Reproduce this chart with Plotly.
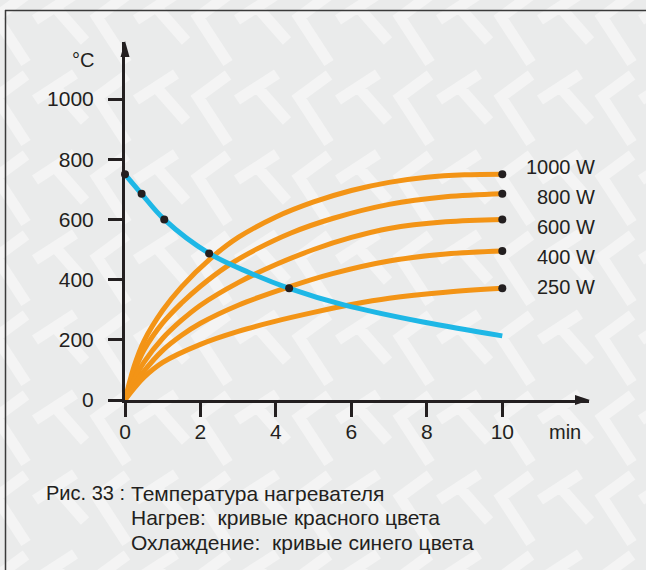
import plotly.graph_objects as go

# cooling curve (blue)
cool_t = [0, 0.44, 1.04, 2.23, 3.3, 4.35, 5.8, 7.9, 10]
cool_T = [750, 685, 600, 487, 423, 371, 316, 259, 213]
cool_dot_t = [0, 0.44, 1.04, 2.23, 4.35]
cool_dot_T = [750, 685, 600, 487, 371]

# heating curves (orange)
t_1000 = [0, 0.25, 0.5, 1, 1.5, 2.25, 3, 4, 5, 6, 7, 8, 9, 10]
T_1000 = [0, 115, 195, 298, 376, 468, 540, 608, 658, 696, 723, 740, 748, 750]
t_800 = [0, 0.25, 0.5, 1, 1.5, 2, 2.7, 3.5, 4.4, 5.5, 7, 8.5, 10]
T_800 = [0, 95, 165, 256, 322, 378, 444, 502, 555, 603, 650, 675, 685]
t_600 = [0, 0.25, 0.5, 1, 1.5, 2, 3, 4, 5, 6, 7, 8.5, 10]
T_600 = [0, 70, 125, 205, 265, 315, 390, 450, 500, 540, 570, 592, 600]
t_400 = [0, 0.25, 0.5, 1, 1.5, 2, 3, 4.35, 5.5, 7, 8.5, 10]
T_400 = [0, 50, 95, 165, 215, 255, 315, 376, 420, 462, 485, 495]
t_250 = [0, 0.25, 0.5, 1, 2, 3, 4, 5, 6, 7, 8.5, 10]
T_250 = [0, 40, 75, 125, 185, 228, 262, 291, 317, 338, 358, 371]

heat_t = [t_1000, t_800, t_600, t_400, t_250]
heat_T = [T_1000, T_800, T_600, T_400, T_250]
power_labels = ['1000 W', '800 W', '600 W', '400 W', '250 W']

x_ticks = [0, 2, 4, 6, 8, 10]
y_ticks = [0, 200, 400, 600, 800, 1000]

caption_head = 'Рис. 33 :'
caption_lines = ['Температура нагревателя',
                 'Нагрев:  кривые красного цвета',
                 'Охлаждение:  кривые синего цвета']

ORANGE = '#F39416'
BLUE = '#1EB7E6'
INK = '#231F20'
FONT = 'Liberation Sans, Arial, sans-serif'

W, H = 646, 570
L, R, T, B = 125, 589, 42, 400   # plot area in pixels


def px(x):
    return (x - L) / (R - L)


def py(y):
    return (B - y) / (B - T)


fig = go.Figure()

# faint "CT" watermark in the background
segs = []
for row in range(-1, 8):
    for col in range(-1, 7):
        vx, vy = 602 - 101 * col, 17 + 80 * row
        strokes = [[(vx + 30, vy - 22), (vx, vy), (vx + 30, vy + 46)],
                   [(vx - 62, vy + 3), (vx - 22, vy - 23)],
                   [(vx - 42, vy - 10), (vx - 12, vy + 24)]]
        for st in strokes:
            segs.append('M ' + ' L '.join(f'{px(a):.4f} {py(b):.4f}' for a, b in st))
fig.add_shape(type='path', xref='paper', yref='paper', layer='below', path=' '.join(segs),
              line=dict(color='#F4F4F4', width=11))

for tt, TT in zip(heat_t, heat_T):
    fig.add_trace(go.Scatter(x=tt, y=TT, mode='lines', line=dict(color=ORANGE, width=5, shape='spline', smoothing=1),
                             hoverinfo='skip', showlegend=False))

fig.add_trace(go.Scatter(x=cool_t, y=cool_T, mode='lines', line=dict(color=BLUE, width=5, shape='spline', smoothing=1),
                         hoverinfo='skip', showlegend=False))

# dots on cooling curve and at ends of heating curves
fig.add_trace(go.Scatter(x=cool_dot_t, y=cool_dot_T, mode='markers', marker=dict(color=INK, size=8),
                         cliponaxis=False, hoverinfo='skip', showlegend=False))
fig.add_trace(go.Scatter(x=[tt[-1] for tt in heat_t], y=[TT[-1] for TT in heat_T], mode='markers',
                         marker=dict(color=INK, size=8), cliponaxis=False, hoverinfo='skip', showlegend=False))

# power labels
for i, lab in enumerate(power_labels):
    fig.add_annotation(text=lab, xref='paper', yref='paper', x=px(597), y=py(167 + 30 * i),
                       xanchor='right', yanchor='middle', showarrow=False, font=dict(size=20, color=INK, family=FONT))

fig.add_annotation(text='°C', xref='paper', yref='paper', x=px(96), y=py(60), xanchor='right', yanchor='middle',
                   showarrow=False, font=dict(size=20, color=INK, family=FONT))
fig.add_annotation(text='min', xref='paper', yref='paper', x=px(547), y=py(432), xanchor='left', yanchor='middle',
                   showarrow=False, font=dict(size=20, color=INK, family=FONT))

# caption
fig.add_annotation(text=caption_head, xref='paper', yref='paper', x=px(44), y=py(493), xanchor='left',
                   yanchor='middle', showarrow=False, font=dict(size=20, color=INK, family=FONT))
for i, line in enumerate(caption_lines):
    fig.add_annotation(text=line, xref='paper', yref='paper', x=px(129), y=py(493 + 24.5 * i), xanchor='left',
                       yanchor='middle', showarrow=False, font=dict(size=21, color=INK, family=FONT))

# arrow heads
fig.add_shape(type='path', xref='paper', yref='paper', layer='above',
              path=f'M {px(575)} {py(395)} L {px(590)} {py(400)} L {px(575)} {py(405)} Z',
              fillcolor=INK, line=dict(width=0))
fig.add_shape(type='path', xref='paper', yref='paper', layer='above',
              path=f'M {px(120.5)} {py(57)} L {px(125)} {py(41)} L {px(129.5)} {py(57)} Z',
              fillcolor=INK, line=dict(width=0))

# frame lines
fig.add_shape(type='line', xref='paper', yref='paper', x0=px(5), x1=px(646), y0=py(10.5), y1=py(10.5),
              line=dict(color='#3a3a3a', width=1.5))
fig.add_shape(type='line', xref='paper', yref='paper', x0=px(5.5), x1=px(5.5), y0=py(10), y1=py(570),
              line=dict(color='#3a3a3a', width=1.5))

axis_common = dict(showline=True, linewidth=3, linecolor=INK, ticks='outside', ticklen=14, tickwidth=3,
                   tickcolor=INK, showgrid=False, zeroline=False, tickfont=dict(size=21, color=INK, family=FONT),
                   fixedrange=True)

fig.update_layout(
    width=W, height=H,
    margin=dict(l=L, r=W - R, t=T, b=H - B, pad=0),
    paper_bgcolor='#EAEBEB', plot_bgcolor='rgba(0,0,0,0)',
    xaxis=dict(range=[0, (R - L) / 37.73], tickvals=x_ticks, ticklabelstandoff=-3, **axis_common),
    yaxis=dict(range=[0, (B - T) / 0.301], tickvals=y_ticks, ticklabelstandoff=10, **axis_common),
)

fig.write_html('out.html', config={'displayModeBar': False},
               post_script="document.body.style.margin='0';document.body.style.overflow='hidden';")
